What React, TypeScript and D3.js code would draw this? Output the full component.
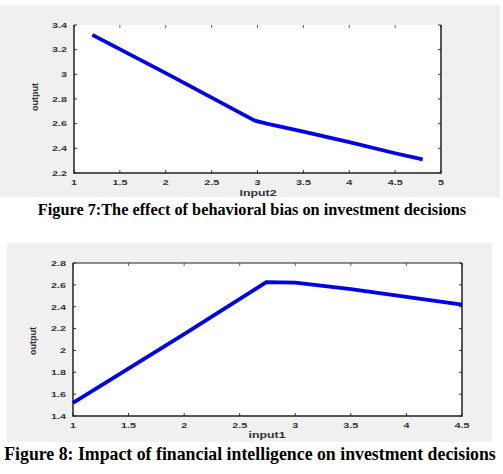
import React from 'react'
import * as d3 from 'd3'

// Figure 7: output vs Input2
const input2 = [1.2, 2, 2.97, 3.1, 3.5, 4, 4.5, 4.8]
const output7 = [3.32, 3.01, 2.625, 2.6, 2.535, 2.45, 2.36, 2.31]
const xTicks7 = [1, 1.5, 2, 2.5, 3, 3.5, 4, 4.5, 5]
const yTicks7 = [2.2, 2.4, 2.6, 2.8, 3, 3.2, 3.4]

// Figure 8: output vs input1
const input1 = [1, 2, 2.74, 3, 3.25, 3.5, 4, 4.5]
const output8 = [1.52, 2.15, 2.625, 2.62, 2.59, 2.56, 2.49, 2.42]
const xTicks8 = [1, 1.5, 2, 2.5, 3, 3.5, 4, 4.5]
const yTicks8 = [1.4, 1.6, 1.8, 2, 2.2, 2.4, 2.6, 2.8]

const captions = [
  'Figure 7:The effect of behavioral bias on investment decisions',
  'Figure 8: Impact of financial intelligence on investment decisions',
]

const sans = '"Liberation Sans", Arial, sans-serif'
const serif = '"Liberation Serif", "Times New Roman", serif'

// wide, squat label text like the old plot export
const Label = ({ x, y, anchor, size, sx, sy, rot = 0, children }: any) => (
  <text
    transform={`translate(${x},${y}) rotate(${rot}) scale(${sx},${sy})`}
    textAnchor={anchor}
    fontFamily={sans}
    fontWeight="bold"
    fontSize={size}
    fill="#333"
  >{children}</text>
)

type PanelProps = {
  bg: [number, number, number, number]
  box: [number, number, number, number]
  xs: number[]
  ys: number[]
  xDomain: [number, number]
  yDomain: [number, number]
  xTicks: number[]
  yTicks: number[]
  xLabel: string
  xLabelPos: [number, number]
  yLabelPos: [number, number]
  topLine: boolean
}

const Panel = (p: PanelProps) => {
  const [l, t, r, b] = p.box
  const x = d3.scaleLinear(p.xDomain, [l, r])
  const y = d3.scaleLinear(p.yDomain, [b, t])
  const line = d3.line<number>()
    .x((_, i) => x(p.xs[i]))
    .y(d => y(d))
  return (
    <g>
      <rect x={p.bg[0]} y={p.bg[1]} width={p.bg[2] - p.bg[0]} height={p.bg[3] - p.bg[1]} fill="#f0f0f0" />
      <rect x={l} y={t} width={r - l} height={b - t} fill="#fff" />
      {/* ticks on all four sides, pointing in */}
      {p.xTicks.map(v => (
        <g key={'x' + v}>
          <line x1={x(v)} x2={x(v)} y1={b} y2={b - 3} stroke="#333" />
          <line x1={x(v)} x2={x(v)} y1={t} y2={t + 3} stroke="#666" />
          <Label x={x(v)} y={b + 11.5} anchor="middle" size={8} sx={1.35} sy={0.9}>{String(v)}</Label>
        </g>
      ))}
      {p.yTicks.map(v => (
        <g key={'y' + v}>
          <line x1={l} x2={l + 3} y1={y(v)} y2={y(v)} stroke="#333" />
          <line x1={r} x2={r - 3} y1={y(v)} y2={y(v)} stroke="#333" />
          <Label x={l - 7} y={y(v) + 2.8} anchor="end" size={8} sx={1.35} sy={0.9}>{String(v)}</Label>
        </g>
      ))}
      {p.topLine && <line x1={l} x2={r} y1={t} y2={t} stroke="#222" strokeWidth={1.2} />}
      <path d={`M${l},${t}V${b}H${r}V${t}`} fill="none" stroke="#222" strokeWidth={1.5} />
      <path d={line(p.ys) ?? ''} fill="none" stroke="#0000e6" strokeWidth={3.8} strokeLinejoin="round" />
      <Label x={p.xLabelPos[0]} y={p.xLabelPos[1]} anchor="middle" size={9.5} sx={1.3} sy={0.9}>{p.xLabel}</Label>
      <Label x={p.yLabelPos[0]} y={p.yLabelPos[1]} anchor="middle" size={9.5} sx={0.95} sy={1.05} rot={-90}>output</Label>
    </g>
  )
}

const App = () => (
  <svg width={503} height={474} style={{ position: 'fixed', left: 0, top: 0, background: '#fff' }}>
    <Panel
      bg={[0, 5, 500, 197]}
      box={[74, 25, 441, 173]}
      xs={input2} ys={output7}
      xDomain={[1, 5]} yDomain={[2.2, 3.4]}
      xTicks={xTicks7} yTicks={yTicks7}
      xLabel="Input2" xLabelPos={[258, 196]} yLabelPos={[38, 97]}
      topLine={false}
    />
    <text x={252} y={215} textAnchor="middle" fontFamily={serif} fontWeight="bold" fontSize={16.3}>{captions[0]}</text>
    <Panel
      bg={[7, 243, 492, 442]}
      box={[73, 263, 462, 416]}
      xs={input1} ys={output8}
      xDomain={[1, 4.5]} yDomain={[1.4, 2.8]}
      xTicks={xTicks8} yTicks={yTicks8}
      xLabel="input1" xLabelPos={[267, 438]} yLabelPos={[36, 341]}
      topLine={true}
    />
    <text x={250} y={460} textAnchor="middle" fontFamily={serif} fontWeight="bold" fontSize={17.8}>{captions[1]}</text>
  </svg>
)

export default App
